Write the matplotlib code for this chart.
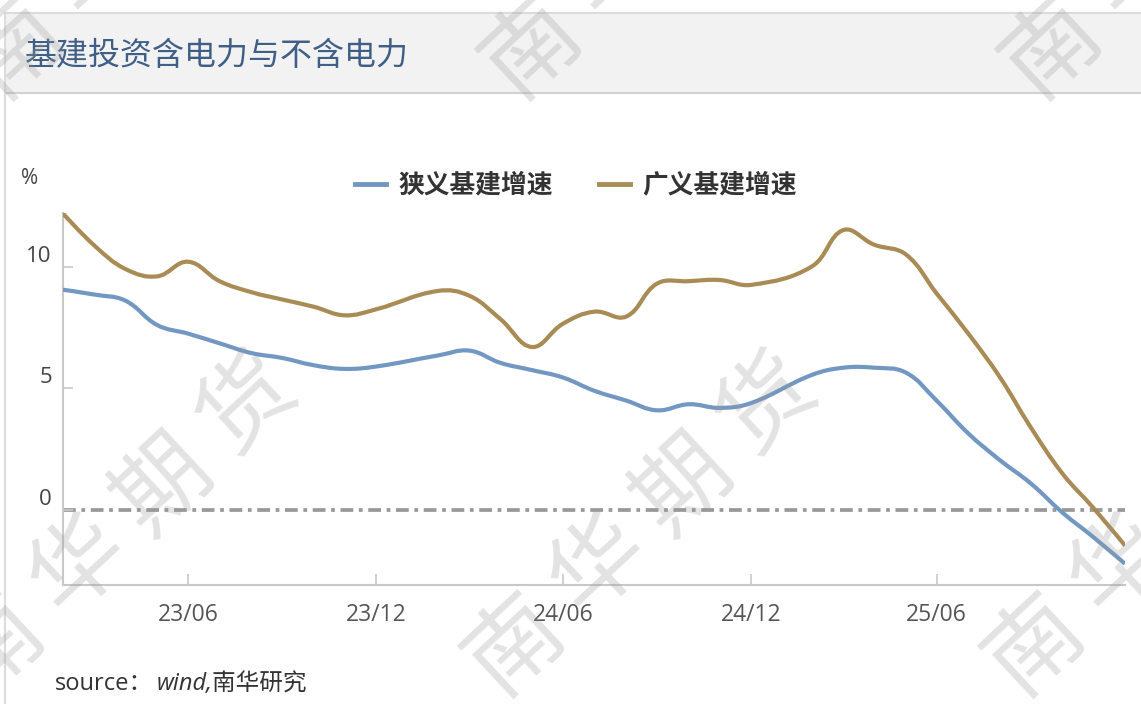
import matplotlib
matplotlib.use('Agg')
import matplotlib.pyplot as plt
import matplotlib.dates as mdates
import numpy as np
import pandas as pd
from matplotlib.path import Path
from matplotlib.patches import PathPatch, Rectangle
from matplotlib.lines import Line2D

plt.rcParams['font.family'] = ['Open Sans', 'Noto Sans CJK SC', 'DejaVu Sans']

# 月末日期，1月无单独数据
dates = [d for d in pd.date_range('2023-02-01', '2025-12-31', freq='ME') if d.month != 1]

# 狭义基建增速 (%)
narrow = [9.05, 8.85, 8.6, 7.6, 7.25, 6.85, 6.45, 6.25, 5.95, 5.8, 5.9,
          6.35, 6.55, 6.05, 5.75, 5.45, 4.9, 4.5, 4.1, 4.35, 4.2, 4.4,
          5.55, 5.85, 5.85, 5.65, 4.5, 3.15, 2.05, 1.1, -0.1, -1.1, -2.2]
# 广义基建增速 (%)
broad = [12.18, 10.85, 9.9, 9.6, 10.2, 9.4, 8.95, 8.65, 8.35, 8.0, 8.25,
         9.0, 8.8, 7.85, 6.7, 7.65, 8.15, 7.95, 9.3, 9.4, 9.45, 9.25,
         10.0, 11.5, 10.9, 10.5, 8.9, 7.25, 5.45, 3.4, 1.5, 0.1, -1.45]

series_names = ['狭义基建增速', '广义基建增速']
series_colors = ['#7397c3', '#a98b55']
tick_labels = ['23/06', '23/12', '24/06', '24/12', '25/06']
y_ticks = [0, 5, 10]

W, H = 1141, 704
fig = plt.figure(figsize=(W / 100, H / 100), dpi=100)
fig.patch.set_facecolor('white')


def fx(px):
    return px / W


def fy(py):
    return 1 - py / H


# 标题栏
fig.add_artist(Rectangle((fx(5), fy(93)), fx(W - 5), 80 / H, transform=fig.transFigure,
                         facecolor='#f2f2f2', edgecolor='none', zorder=0))
fig.add_artist(Line2D([fx(5), 1], [fy(13), fy(13)], color='#dcdcdc', lw=1.5))
fig.add_artist(Line2D([fx(5), 1], [fy(93), fy(93)], color='#d2d2d2', lw=1.5))
fig.add_artist(Line2D([fx(5), fx(5)], [fy(13), 0], color='#dcdcdc', lw=1.5))
fig.text(fx(25), fy(56), '基建投资含电力与不含电力', fontsize=23, color='#3f5f86',
         va='center', ha='left')

ax = fig.add_axes([fx(63), fy(585), fx(1125 - 63), (585 - 213) / H])
ax.set_xlim(dates[0], dates[-1])
ax.set_ylim(-3.07, 12.2)
ax.patch.set_alpha(0)

xs = mdates.date2num(dates)


def smooth_path(xv, yv, smooth=0.4):
    pts = ax.transData.transform(np.column_stack([xv, yv]))
    n = len(pts)
    cps = []
    for i in range(n):
        p = pts[i]
        if i == 0 or i == n - 1:
            cps.append((p, p))
            continue
        prev, nxt = pts[i - 1], pts[i + 1]
        v = nxt - prev
        d0 = np.hypot(*(p - prev))
        d1 = np.hypot(*(nxt - p))
        cps.append((p - v * smooth * d0 / (d0 + d1), p + v * smooth * d1 / (d0 + d1)))
    verts = [pts[0]]
    codes = [Path.MOVETO]
    for i in range(1, n):
        verts += [cps[i - 1][1], cps[i][0], pts[i]]
        codes += [Path.CURVE4] * 3
    verts = ax.transData.inverted().transform(np.array(verts))
    return Path(verts, codes)


ax.axhline(0, color='#999999', lw=2.7, dashes=(3.4, 1.5, 1.0, 1.5), zorder=1)

for vals, col in zip([narrow, broad], series_colors):
    ax.add_patch(PathPatch(smooth_path(xs, vals), facecolor='none', edgecolor=col,
                           lw=3, capstyle='butt', joinstyle='round', zorder=3))

for s in ['top', 'right']:
    ax.spines[s].set_visible(False)
for s in ['left', 'bottom']:
    ax.spines[s].set_color('#c8c8c8')
    ax.spines[s].set_linewidth(1.5)

tick_dates = [pd.Timestamp('20' + t.replace('/', '-')) + pd.offsets.MonthEnd(0) for t in tick_labels]
ax.set_xticks(tick_dates)
ax.set_xticklabels(tick_labels)
ax.set_yticks(y_ticks)
ax.set_yticklabels([str(v) for v in y_ticks])
ax.tick_params(axis='x', direction='in', length=8, width=1.2, color='#c8c8c8',
               labelsize=16.5, labelcolor='#555555', pad=13)
ax.tick_params(axis='y', direction='in', length=7, width=1.2, color='#c8c8c8',
               labelsize=16, labelcolor='#444444', pad=8)
for lab in ax.get_yticklabels():
    lab.set_verticalalignment('bottom')

fig.text(fx(21), fy(178), '%', fontsize=15, color='#444444', va='center', ha='left')

handles = [Line2D([], [], color=c, lw=3.5) for c in series_colors]
fig.legend(handles, series_names, loc='center', bbox_to_anchor=(fx(576), fy(185)),
           ncol=2, frameon=False, handlelength=1.2, handletextpad=0.5, columnspacing=1.8,
           prop={'size': 18.5, 'weight': 'bold'}, labelcolor='#333333')

fig.text(fx(55), fy(690), 'source：', fontsize=17, color='#333333', va='baseline', ha='left')
fig.text(fx(157), fy(690), 'wind,南华研究', fontsize=17, color='#333333', va='baseline',
         ha='left', style='italic')

# 水印
wm_starts = [(-5, 645), (515, 645), (1035, 645), (15, 48), (532, 48), (1052, 48)]
step = (84, -80)
for sx, sy in wm_starts:
    for k, ch in enumerate('南华期货'):
        px, py = sx + k * step[0], sy + k * step[1]
        fig.text(fx(px), fy(py), ch, fontsize=68, fontweight='normal', color='#999999',
                 alpha=0.27, rotation=43, ha='center', va='center',
                 rotation_mode='anchor', family=['Noto Sans CJK SC'], zorder=10)

fig.savefig('out.png', dpi=100)
